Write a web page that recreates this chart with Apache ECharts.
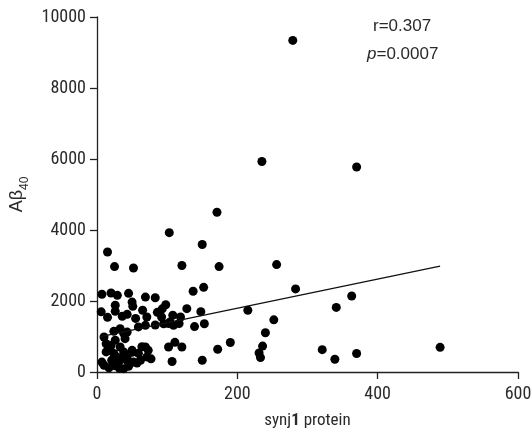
<!DOCTYPE html>
<html>
<head>
<meta charset="utf-8">
<script src="https://cdn.jsdelivr.net/npm/echarts@6/dist/echarts.min.js"></script>
<style>
html,body{margin:0;padding:0;background:#fff;}
#chart{width:531px;height:433px;}
</style>
</head>
<body>
<div id="chart"></div>
<script>
// synj1 protein (x) values
const synjX = [
  279, 235, 370, 171, 103, 15, 150, 25, 52, 121, 174, 256, 283, 137, 152, 363, 341, 215, 252, 240,
  236, 231, 233, 190, 172, 150, 321, 339, 370, 489,
  7, 20, 29, 45, 50, 51, 69, 83, 26, 6, 15, 26, 36, 43, 55, 59, 65, 71, 69, 83,
  86, 92, 93, 98, 95, 102, 104, 108, 109, 117, 119, 128, 139, 148, 153,
  10, 13, 20, 24, 33, 38, 43, 26, 40, 33, 50, 64, 69, 73, 77, 71, 57, 50, 7,
  17, 24, 26, 31, 36, 38, 43, 43, 28, 24, 21, 38, 52, 62, 102, 111, 121, 107, 32, 10,
  45, 59, 19, 13
];
// Abeta40 (y) values
const abetaY = [
  9340, 5930, 5775, 4500, 3925, 3380, 3590, 2970, 2930, 3000, 2970, 3025, 2340, 2275, 2385, 2140, 1820, 1740, 1470, 1105,
  730, 535, 405, 830, 640, 330, 630, 360, 520, 695,
  2190, 2225, 2160, 2215, 1970, 1850, 2110, 2090, 1880, 1695, 1540, 1710, 1570, 1625, 1510, 1270, 1740, 1550, 1315, 1325,
  1680, 1550, 1780, 1895, 1360, 1365, 1410, 1600, 1315, 1365, 1550, 1785, 1280, 1700, 1360,
  985, 795, 750, 1145, 1220, 1090, 1125, 895, 940, 705, 610, 710, 705, 610, 370, 425, 255, 555, 280,
  120, 230, 175, 280, 415, 565, 440, 315, 425, 520, 330, 95, 280, 330, 705, 835, 705, 295, 105, 190,
  160, 525, 610, 565
];
// regression line end points
const fitX = [5, 489];
const fitY = [994, 2983];
// axis ticks
const xTicks = [0, 200, 400, 600];
const yTicks = [0, 2000, 4000, 6000, 8000, 10000];
const statR = 'r=0.307';
const statP = '0.0007';

const points = synjX.map((x, i) => [x, abetaY[i]]);
const fitLine = fitX.map((x, i) => [x, fitY[i]]);

const narrow = "'Liberation Sans Narrow', 'Arial Narrow', 'Roboto Condensed', 'Liberation Sans', sans-serif";
const regular = "'Liberation Sans', Arial, sans-serif";
const textColor = '#2a2a2a';

const chart = echarts.init(document.getElementById('chart'), null, {renderer: 'canvas'});
chart.setOption({
  animation: false,
  backgroundColor: '#ffffff',
  grid: {left: 97, right: 13, top: 17, bottom: 61, containLabel: false, outerBoundsMode: 'none'},
  xAxis: {
    type: 'value', min: xTicks[0], max: xTicks[xTicks.length - 1], interval: 200,
    splitLine: {show: false},
    axisLine: {show: true, onZero: false, lineStyle: {color: '#222', width: 1.3}},
    axisTick: {show: true, length: 7, lineStyle: {color: '#222', width: 1.3}},
    axisLabel: {color: textColor, fontFamily: narrow, fontSize: 18, margin: 13, formatter: v => String(v)},
    name: '{n|synj}{b|1}{n| protein}', nameLocation: 'middle', nameGap: 40,
    nameTextStyle: {
      color: textColor,
      rich: {
        n: {fontFamily: narrow, fontSize: 17, color: textColor},
        b: {fontFamily: narrow, fontSize: 17, fontWeight: 'bold', color: textColor}
      }
    }
  },
  yAxis: {
    type: 'value', min: yTicks[0], max: yTicks[yTicks.length - 1], interval: 2000,
    splitLine: {show: false},
    axisLine: {show: true, onZero: false, lineStyle: {color: '#222', width: 1.3}},
    axisTick: {show: true, length: 7, lineStyle: {color: '#222', width: 1.3}},
    axisLabel: {color: textColor, fontFamily: narrow, fontSize: 18, margin: 11, formatter: v => String(v)},
    name: '{a|Aβ}{s|40}', nameLocation: 'middle', nameRotate: 90, nameGap: 62,
    nameTextStyle: {
      color: textColor,
      rich: {
        a: {fontFamily: regular, fontSize: 18, color: textColor, verticalAlign: 'bottom', padding: [0, 0, 5, 0]},
        s: {fontFamily: regular, fontSize: 12, color: textColor, verticalAlign: 'bottom'}
      }
    }
  },
  series: [
    {
      type: 'scatter', data: points, symbol: 'circle', symbolSize: 9,
      itemStyle: {color: '#000', opacity: 1}, z: 3
    },
    {
      type: 'line', data: fitLine, symbol: 'none', showSymbol: false,
      lineStyle: {color: '#111', width: 1.3}, z: 4
    }
  ],
  graphic: [
    {
      type: 'text', left: 373, top: 18,
      style: {text: statR, fontFamily: regular, fontSize: 17, fill: textColor}
    },
    {
      type: 'text', left: 367, top: 46,
      style: {
        text: '{i|p}{n|=' + statP + '}',
        rich: {
          i: {fontFamily: regular, fontSize: 17, fontStyle: 'italic', fill: textColor},
          n: {fontFamily: regular, fontSize: 17, fill: textColor}
        }
      }
    }
  ]
});
</script>
</body>
</html>
